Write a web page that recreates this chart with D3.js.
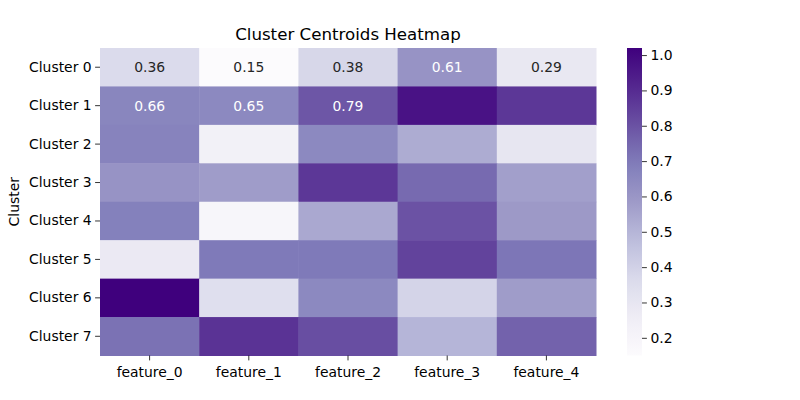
<!DOCTYPE html>
<html><head><meta charset="utf-8">
<script src="https://cdn.jsdelivr.net/npm/d3@7"></script>
<style>body{margin:0;background:#fff;} text{font-family:"DejaVu Sans",sans-serif;}</style>
</head><body><svg id="chart" width="800" height="400"></svg>
<script>
const clusters = ["Cluster 0","Cluster 1","Cluster 2","Cluster 3","Cluster 4","Cluster 5","Cluster 6","Cluster 7"];
const features = ["feature_0","feature_1","feature_2","feature_3","feature_4"];
const values = [
  [0.36, 0.15, 0.38, 0.61, 0.29],
  [0.66, 0.65, 0.79, 0.97, 0.87],
  [0.67, 0.23, 0.65, 0.53, 0.30],
  [0.61, 0.58, 0.87, 0.74, 0.57],
  [0.68, 0.19, 0.54, 0.80, 0.59],
  [0.28, 0.70, 0.70, 0.84, 0.71],
  [1.02, 0.34, 0.65, 0.39, 0.58],
  [0.72, 0.88, 0.81, 0.50, 0.76]
];
const annotatedCount = 8; // only the first 8 cells carry a number in the reference
const cbTicks = [0.2,0.3,0.4,0.5,0.6,0.7,0.8,0.9,1.0];
const purples = ["#fcfbfd","#efedf5","#dadaeb","#bcbddc","#9e9ac8","#807dba","#6a51a3","#54278f","#3f007d"];

const svg = d3.select("#chart");
const m = {left:100, top:48, right:596, bottom:355.5};
const x = d3.scaleBand().domain(features).range([m.left, m.right]);
const y = d3.scaleBand().domain(clusters).range([m.top, m.bottom]);
const vmin = d3.min(values.flat()), vmax = d3.max(values.flat());
const color = d3.scaleLinear()
  .domain(purples.map((_, i) => vmin + (vmax - vmin) * i / (purples.length - 1)))
  .range(purples).interpolate(d3.interpolateRgb).clamp(true);

const cells = [];
values.forEach((row, r) => row.forEach((v, c) => cells.push({r, c, v})));
svg.append("g").selectAll("rect").data(cells).join("rect")
  .attr("x", d => x(features[d.c])).attr("y", d => y(clusters[d.r]))
  .attr("width", x.bandwidth() + 0.5).attr("height", y.bandwidth() + 0.5)
  .attr("fill", d => color(d.v));

function lum(c){const o=d3.rgb(c);const f=v=>{v/=255;return v<=0.03928?v/12.92:Math.pow((v+0.055)/1.055,2.4);};return 0.2126*f(o.r)+0.7152*f(o.g)+0.0722*f(o.b);}
svg.append("g").selectAll("text").data(cells.slice(0, annotatedCount)).join("text")
  .attr("x", d => x(features[d.c]) + x.bandwidth()/2)
  .attr("y", d => y(clusters[d.r]) + y.bandwidth()/2)
  .attr("text-anchor","middle").attr("dominant-baseline","central")
  .attr("font-size","13.9px")
  .attr("fill", d => lum(color(d.v)) > 0.408 ? "#262626" : "#ffffff")
  .text(d => d.v.toFixed(2));

// axes
const xAxis = svg.append("g").attr("transform",`translate(0,${m.bottom})`)
  .call(d3.axisBottom(x).tickSize(4.9).tickPadding(3.5));
const yAxis = svg.append("g").attr("transform",`translate(${m.left},0)`)
  .call(d3.axisLeft(y).tickSize(4.9).tickPadding(3.5));
[xAxis,yAxis].forEach(a=>{
  a.select(".domain").remove();
  a.selectAll(".tick line").attr("stroke","#000").attr("stroke-width",0.8);
  a.selectAll(".tick text").attr("font-size","13.9px").attr("fill","#000").style("font-family","DejaVu Sans");
});
xAxis.selectAll(".tick text").attr("dy","0.95em");

// title & label
svg.append("text").attr("x",(m.left+m.right)/2).attr("y",40).attr("text-anchor","middle")
  .attr("font-size","16.67px").attr("fill","#000").text("Cluster Centroids Heatmap");
svg.append("text").attr("transform",`translate(19,${(m.top+m.bottom)/2}) rotate(-90)`)
  .attr("text-anchor","middle").attr("font-size","13.9px").attr("fill","#000").text("Cluster");

// colorbar
const cb = {x:627, w:15, top:48, bottom:355.5};
const cy = d3.scaleLinear().domain([vmin, vmax]).range([cb.bottom, cb.top]);
const defs = svg.append("defs");
const grad = defs.append("linearGradient").attr("id","cbg").attr("x1",0).attr("y1",1).attr("x2",0).attr("y2",0);
d3.range(0,1.0001,0.05).forEach(t=>{
  grad.append("stop").attr("offset",t).attr("stop-color",color(vmin+(vmax-vmin)*t));
});
svg.append("rect").attr("x",cb.x).attr("y",cb.top).attr("width",cb.w).attr("height",cb.bottom-cb.top).attr("fill","url(#cbg)");
const cbAxis = svg.append("g").attr("transform",`translate(${cb.x+cb.w},0)`)
  .call(d3.axisRight(cy).tickValues(cbTicks).tickFormat(d3.format(".1f")).tickSize(4.9).tickPadding(3.5));
cbAxis.select(".domain").remove();
cbAxis.selectAll(".tick line").attr("stroke","#000").attr("stroke-width",0.8);
cbAxis.selectAll(".tick text").attr("font-size","13.9px").attr("fill","#000").style("font-family","DejaVu Sans");
</script></body></html>
